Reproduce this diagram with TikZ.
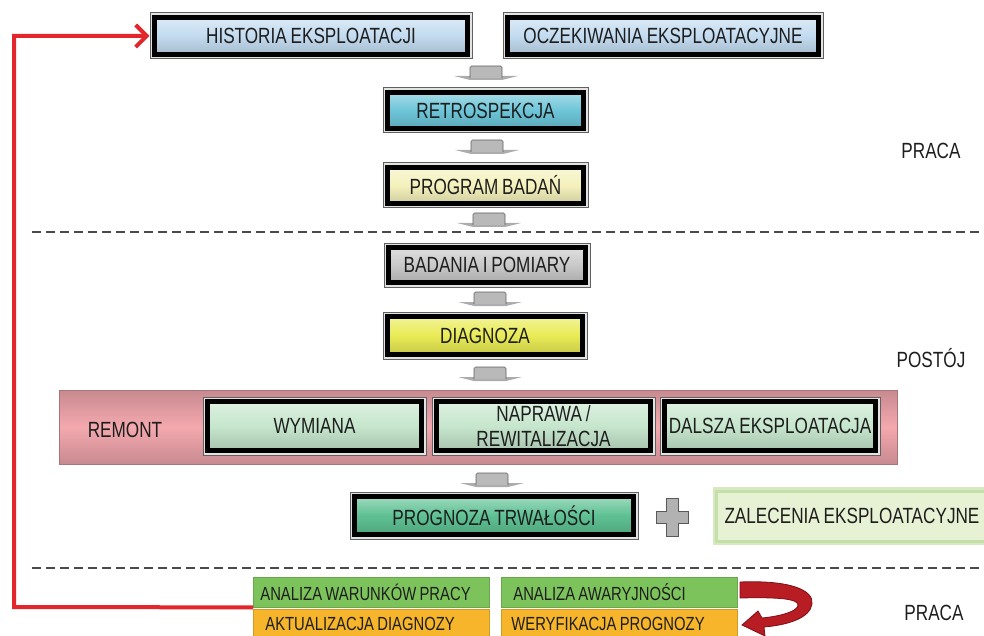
\documentclass[tikz,border=0pt]{standalone}
\usepackage{fontspec}
\setmainfont{Liberation Sans}[FakeStretch=0.78, WordSpace=0.8]
\usetikzlibrary{arrows.meta}

\definecolor{txt}{HTML}{1E1E1E}
\definecolor{histblue}{HTML}{C3DBF0}
\definecolor{retro}{HTML}{6CC5D8}
\definecolor{progy}{HTML}{F4F1BC}
\definecolor{badgray}{HTML}{C9C9C9}
\definecolor{diagy}{HTML}{E9EB55}
\definecolor{remgreen}{HTML}{C6E6CD}
\definecolor{progn}{HTML}{5EC193}
\definecolor{zalfill}{HTML}{E7F2D5}
\definecolor{zaledge}{HTML}{C5DFA8}
\definecolor{pinkmid}{HTML}{F4A9AE}
\definecolor{pinkedge}{HTML}{C78A90}
\definecolor{warn}{HTML}{7DC35C}
\definecolor{orng}{HTML}{F6B52B}
\definecolor{fbred}{HTML}{E3262B}
\definecolor{ribbon}{HTML}{B81D24}
\definecolor{ribbonedge}{HTML}{7D1015}
\definecolor{sepgray}{HTML}{4A4A4A}

\newcommand\boxfont{\fontsize{22}{25}\selectfont}
\newcommand\cellfont{\fontsize{19}{20}\selectfont}

\tikzset{
  framebox/.style={rectangle, inner sep=0pt, outer sep=5pt, align=center,
    text=txt, font=\boxfont,
    preaction={draw=gray!75!black, line width=10pt},
    preaction={draw=gray!22, line width=8pt},
    top color=#1!60!white, bottom color=#1!85!black, middle color=#1,
    draw=black, line width=4.5pt},
  remontband/.style={rectangle, inner sep=0pt,
    top color=pinkedge, bottom color=pinkedge, middle color=pinkmid,
    draw=pinkedge!85!black, line width=0.8pt},
  zalbox/.style={rectangle, inner sep=0pt, anchor=west, align=flush left,
    text=txt, font=\boxfont,
    preaction={draw=zaledge!70!white, line width=8pt},
    fill=zalfill, draw=zaledge, line width=3pt},
  cell/.style={rectangle, anchor=west, minimum width=236pt, minimum height=30pt,
    inner xsep=7pt, inner ysep=0pt, text width=222pt, align=flush left,
    text=txt, font=\cellfont, fill=#1, draw=#1!85!black, line width=0.8pt},
  phase/.style={text=txt, font=\boxfont},
  sepline/.style={draw=sepgray, line width=1.6pt, dash pattern=on 9pt off 5pt},
  fbarrow/.style={draw=fbred, line width=4pt,
    -{Straight Barb[length=11pt,width=22pt]}},
  arrowbody/.style={fill=gray!55, draw=gray!75!black, line width=0.6pt},
  arrowbase/.style={fill=gray!65},
  flowarrow/.pic={
    \fill[arrowbase] (-32,10) -- (32,10) -- (16,14) -- (-16,14) -- cycle;
    \filldraw[arrowbody, rounded corners=1.5pt] (-16,12) -- (-16,0) -- (16,0) -- (16,12);
  }
}

\begin{document}
\begin{tikzpicture}[x=1pt, y=-1pt]
\useasboundingbox (0,0) rectangle (984,636);
\clip (0,0) rectangle (984,636);

% working phase boxes
\node[framebox=histblue, minimum width=313pt, minimum height=37pt] (hist) at (311,36) {HISTORIA EKSPLOATACJI};
\node[framebox=histblue, minimum width=311pt, minimum height=37pt] (ocz) at (663,36) {OCZEKIWANIA EKSPLOATACYJNE};
\node[framebox=retro, minimum width=196pt, minimum height=36pt] (retro) at (485.5,110.5) {RETROSPEKCJA};
\node[framebox=progy, minimum width=196pt, minimum height=36pt] (prog) at (485.5,185.5) {PROGRAM BADAŃ};

% stoppage boxes
\node[framebox=badgray, minimum width=197pt, minimum height=35pt] (bad) at (487,265) {BADANIA I POMIARY};
\node[framebox=diagy, minimum width=195pt, minimum height=38pt] (diag) at (485,335.5) {DIAGNOZA};

\node[remontband, minimum width=838pt, minimum height=74pt] (remont) at (478,427) {};
\node[phase] (remlbl) at (125,430) {REMONT};
\node[framebox=remgreen, minimum width=214pt, minimum height=49pt] (wym) at (314.5,426) {WYMIANA};
\node[framebox=remgreen, minimum width=214pt, minimum height=49pt] (napr) at (543.5,426) {NAPRAWA /\\REWITALIZACJA};
\node[framebox=remgreen, minimum width=211pt, minimum height=49pt] (dals) at (770,426) {DALSZA EKSPLOATACJA};

\node[framebox=progn, minimum width=279pt, minimum height=38pt] (progn) at (494,515.5) {PROGNOZA TRWAŁOŚCI};
\node[zalbox, minimum width=300pt, minimum height=50pt, text width=284pt] (zal) at (715,516) {ZALECENIA EKSPLOATACYJNE};

% plus sign
\filldraw[fill=gray!60, draw=gray!70!black, line width=0.6pt]
  (666,498) -- (678,498) -- (678,511) -- (688,511) -- (688,523) -- (678,523)
  -- (678,536) -- (666,536) -- (666,523) -- (656,523) -- (656,511) -- (666,511) -- cycle;

% flow arrows
\pic at (486,66) {flowarrow};
\pic at (487,140) {flowarrow};
\pic at (489,213) {flowarrow};
\pic at (490,292) {flowarrow};
\pic at (490,367) {flowarrow};
\pic at (492,473) {flowarrow};

% phase separators
\draw[sepline] (32,232) -- (984,232);
\draw[sepline] (32,568) -- (984,568);

% phase labels
\node[phase] (praca1) at (931,151) {PRACA};
\node[phase] (postoj) at (931,358) {POSTÓJ};
\node[phase] (praca2) at (934,613) {PRACA};

% working phase analysis cells
\node[cell=warn] (aw) at (253,592) {ANALIZA WARUNKÓW PRACY};
\node[cell=orng] (ad) at (253,624) {\hspace*{5pt}AKTUALIZACJA DIAGNOZY};
\node[cell=warn] (aa) at (501,592) {\hspace*{5pt}ANALIZA AWARYJNOŚCI};
\node[cell=orng] (wp) at (501,624) {\hspace*{3pt}WERYFIKACJA PROGNOZY};

% feedback loop
\coordinate (fbcorner) at (14,607);
\draw[fbarrow] (aw.south west) -- (fbcorner) |- (hist.west);

% curved ribbon arrow
\filldraw[fill=ribbon, draw=ribbonedge, line width=0.8pt]
  (740,582) .. controls (790,580) and (814,590) .. (812,604)
  .. controls (810,618) and (788,625) .. (764,627)
  -- (765,636) -- (742,625) -- (758,611) -- (762,618)
  .. controls (782,616) and (798,611) .. (798,605)
  .. controls (798,599) and (780,597) .. (740,598) -- cycle;
\end{tikzpicture}
\end{document}
